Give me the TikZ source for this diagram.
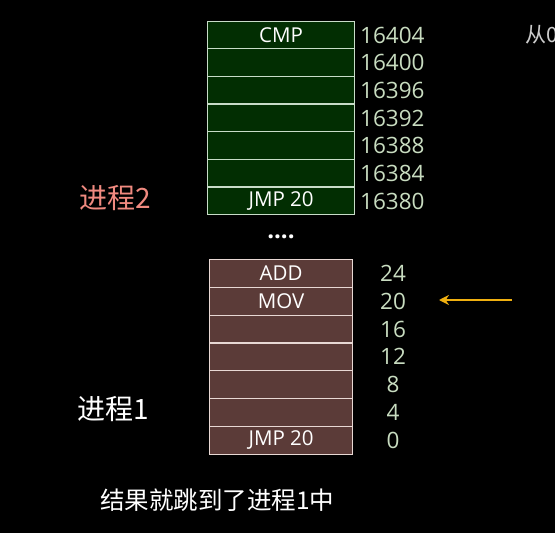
\documentclass[tikz,border=0pt]{standalone}
\usepackage{fontspec}
\setmainfont{Open Sans}
\newfontfamily\cjk{Noto Sans CJK SC}
\usetikzlibrary{arrows.meta}
\definecolor{bgc}{HTML}{000000}
\definecolor{gfill}{HTML}{022E02}
\definecolor{gline}{HTML}{C8DCC8}
\definecolor{bfill}{HTML}{5B3B38}
\definecolor{bline}{HTML}{E8D8D4}
\definecolor{numc}{HTML}{C8DCC0}
\definecolor{salmon}{HTML}{F08A80}
\definecolor{arrc}{HTML}{F0B010}
\begin{document}
\begin{tikzpicture}[x=1pt,y=-1pt,
  greenrow/.style={draw=gline,fill=gfill,line width=1.2pt,minimum width=147pt,minimum height=27.64pt,inner sep=0pt,text=white,font=\fontsize{20.5}{20.5}\selectfont,anchor=north west},
  brownrow/.style={draw=bline,fill=bfill,line width=1.2pt,minimum width=143pt,minimum height=27.79pt,inner sep=0pt,text=white,font=\fontsize{20.5}{20.5}\selectfont,anchor=north west},
  addr/.style={text=numc,font=\fontsize{22.5}{22.5}\selectfont,inner sep=0pt},
  big/.style={font=\cjk\fontsize{28}{28}\selectfont,inner sep=0pt,anchor=west}]
\fill[bgc] (0,0) rectangle (555,533);
\useasboundingbox (0,0) rectangle (555,533);
% green block (process 2)
\node[greenrow] (g1) at (207,20.5) {CMP};
\node[greenrow] (g2) at (207,48.14) {};
\node[greenrow] (g3) at (207,75.78) {};
\node[greenrow] (g4) at (207,103.42) {};
\node[greenrow] (g5) at (207,131.06) {};
\node[greenrow] (g6) at (207,158.70) {};
\node[greenrow] (g7) at (207,186.34) {JMP 20};
\node[addr,anchor=west] (ga1) at (360,35.3) {16404};
\node[addr,anchor=west] (ga2) at (360,62.9) {16400};
\node[addr,anchor=west] (ga3) at (360,90.6) {16396};
\node[addr,anchor=west] (ga4) at (360,118.2) {16392};
\node[addr,anchor=west] (ga5) at (360,145.9) {16388};
\node[addr,anchor=west] (ga6) at (360,173.5) {16384};
\node[addr,anchor=west] (ga7) at (360,201.2) {16380};
% dots
\node[text=white,font=\fontsize{24}{24}\selectfont\bfseries,inner sep=0pt] (dots) at (281,237) {....};
% brown block (process 1)
\node[brownrow] (b1) at (209,259) {ADD};
\node[brownrow] (b2) at (209,286.79) {MOV};
\node[brownrow] (b3) at (209,314.58) {};
\node[brownrow] (b4) at (209,342.37) {};
\node[brownrow] (b5) at (209,370.16) {};
\node[brownrow] (b6) at (209,397.95) {};
\node[brownrow] (b7) at (209,425.74) {JMP 20};
\node[addr] (ba1) at (393,273.4) {24};
\node[addr] (ba2) at (393,301.2) {20};
\node[addr] (ba3) at (393,329) {16};
\node[addr] (ba4) at (393,356.8) {12};
\node[addr] (ba5) at (393,384.6) {8};
\node[addr] (ba6) at (393,412.3) {4};
\node[addr] (ba7) at (393,440.1) {0};
% arrow
\coordinate (as) at (512,300);
\coordinate (ae) at (439,300);
\draw[arrc,line width=2pt,-{Stealth[length=10pt,width=10pt]}] (as) -- (ae);
% labels
\node[big,text=salmon] (p2) at (79,198) {进程2};
\node[big,text=white] (p1) at (77,409) {进程1};
\node[font=\cjk\fontsize{24.5}{24.5}\selectfont,inner sep=0pt,anchor=west,text=white] (res) at (100,500) {结果就跳到了进程1中};
\node[font=\cjk\fontsize{21}{21}\selectfont,inner sep=0pt,anchor=west,text=white!80!black] (top) at (525,35) {从0};
\end{tikzpicture}
\end{document}
